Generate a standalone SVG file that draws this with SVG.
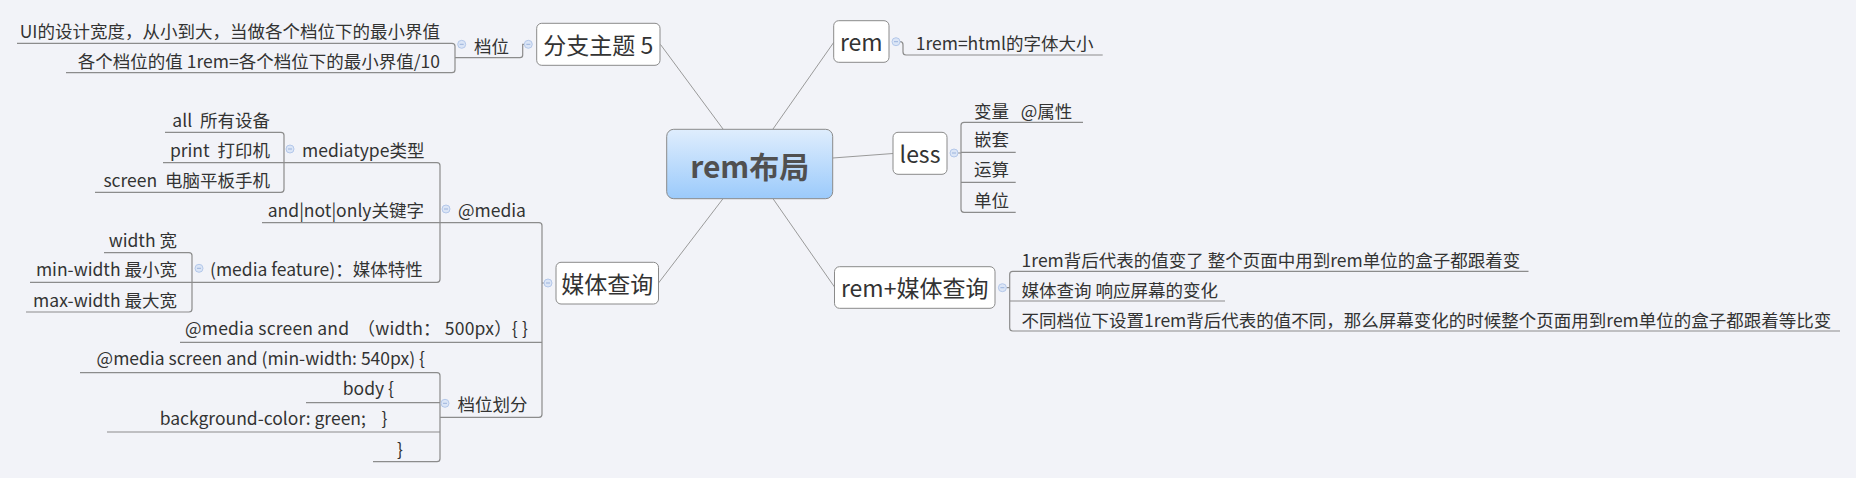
<svg xmlns="http://www.w3.org/2000/svg" width="1856" height="478" viewBox="0 0 1856 478">
<style>
text{font-family:"Noto Sans CJK SC","Liberation Sans",sans-serif;fill:#333;white-space:pre}
.c{font-size:17.5px;dominant-baseline:central}
.m{font-size:23px;text-anchor:middle;dominant-baseline:central}
.e{text-anchor:end}
.box{fill:#fff;stroke:#8a8a8a;stroke-width:1}
.ln{fill:none;stroke:#8c8c8c;stroke-width:1.2}
.cl{fill:none;stroke:#9a9a9a;stroke-width:1}
.btn{fill:#dbe5f6;stroke:#b4c8ea;stroke-width:1}
.bm{stroke:#9bb3dd;stroke-width:1}
</style>
<defs>
<linearGradient id="g" x1="0" y1="0" x2="0" y2="1">
<stop offset="0" stop-color="#dfedfd"/>
<stop offset="1" stop-color="#9bcafb"/>
</linearGradient>
<g id="b"><circle r="4" class="btn"/><line x1="-2" y1="0" x2="2" y2="0" class="bm"/></g>
</defs>
<rect width="1856" height="478" fill="#f2f3f8"/>

<g id="connectors">
<path class="cl" d="M723,129 L660.5,44.5 M773,129 L834,42 M832.7,158 L893,153.5 M723,198.7 L658.5,283 M773,198.7 L834.5,287"/>
<path class="ln" d="M524.3,44.3 H522.7 V55 Q522.7,57.7 520,57.7 H455"/>
<path class="ln" d="M17,43.3 H452 Q455,43.3 455,46.3 V69.7 Q455,72.7 452,72.7 H66"/>
<path class="ln" d="M544,283 H542"/>
<path class="ln" d="M262,222.7 H539 Q542,222.7 542,225.7 V414.3 Q542,417.3 539,417.3 H440"/>
<path class="ln" d="M542,342.3 H180"/>
<path class="ln" d="M163,162.7 H437 Q440,162.7 440,165.7 V279.3 Q440,282.3 437,282.3 H30"/>
<path class="ln" d="M165,132.3 H281 Q284,132.3 284,135.3 V189.3 Q284,192.3 281,192.3 H95"/>
<path class="ln" d="M104,252.7 H189 Q192,252.7 192,255.7 V309 Q192,312 189,312 H26"/>
<path class="ln" d="M80,372.7 H437 Q440,372.7 440,375.7 V458.7 Q440,461.7 437,461.7 H373"/>
<path class="ln" d="M306,402.7 H440 M107,432 H440"/>
<path class="ln" d="M900,41.7 Q903,41.7 903,44.7 V52 Q903,55 906,55 H1102.7"/>
<path class="ln" d="M958,153 H961 M1083,122.3 H964 Q961,122.3 961,125.3 V209.3 Q961,212.3 964,212.3 H1015.7 M961,152.3 H1015.7 M961,182.3 H1015.7"/>
<path class="ln" d="M1006.4,287.7 H1009.7 M1528.5,271.3 H1012.7 Q1009.7,271.3 1009.7,274.3 V328 Q1009.7,331 1012.7,331 H1840 M1009.7,301 H1225"/>
</g>

<g id="center">
<rect x="666.7" y="129.3" width="166" height="69.4" rx="7" fill="url(#g)" stroke="#8a8a8a"/>
<text x="749.7" y="165" text-anchor="middle" dominant-baseline="central" font-size="30" font-weight="bold" style="fill:#505050">rem布局</text>
</g>

<g id="topic5">
<rect class="box" x="536.7" y="23.3" width="123.3" height="42" rx="5"/>
<text class="m" x="598.3" y="44.3">分支主题 5</text>
<use href="#b" x="528.3" y="44.3"/>
</g>
<g id="dangwei">
<text class="c" x="474" y="45">档位</text>
<use href="#b" x="461.7" y="44.3"/>
</g>
<g id="dw1"><text class="c e" x="440" y="30.7">UI的设计宽度，从小到大，当做各个档位下的最小界值</text></g>
<g id="dw2"><text class="c e" x="440" y="60">各个档位的值 1rem=各个档位下的最小界值/10</text></g>

<g id="media-query">
<rect class="box" x="556" y="262.3" width="102.5" height="41.7" rx="5"/>
<text class="m" x="607.2" y="283.3">媒体查询</text>
<use href="#b" x="548" y="283"/>
</g>
<g id="atmedia">
<text class="c" x="458" y="209">@media</text>
<use href="#b" x="446" y="209"/>
</g>
<g id="mediatype">
<text class="c" x="302" y="149">mediatype类型</text>
<use href="#b" x="290" y="149"/>
</g>
<g id="mt1"><text class="c e" x="270" y="119">all  所有设备</text></g>
<g id="mt2"><text class="c e" x="270" y="149">print  打印机</text></g>
<g id="mt3"><text class="c e" x="270" y="179">screen  电脑平板手机</text></g>
<g id="keyword"><text class="c e" x="424" y="209">and|not|only关键字</text></g>
<g id="feature">
<text class="c" x="210" y="268.3">(media feature)：媒体特性</text>
<use href="#b" x="199" y="268.3"/>
</g>
<g id="f1"><text class="c e" x="177" y="239.3">width 宽</text></g>
<g id="f2"><text class="c e" x="177" y="268.3">min-width 最小宽</text></g>
<g id="f3"><text class="c e" x="177" y="299">max-width 最大宽</text></g>
<g id="example"><text class="c" x="185" y="327.7" textLength="343" lengthAdjust="spacing">@media screen and  （width： 500px）{ }</text></g>
<g id="dwhf">
<text class="c" x="457.6" y="403.3">档位划分</text>
<use href="#b" x="445" y="403.3"/>
</g>
<g id="h1"><text class="c e" x="425" y="357.7">@media screen and (min-width: 540px) {</text></g>
<g id="h2"><text class="c e" x="394" y="387.3">body {</text></g>
<g id="h3"><text class="c e" x="387.5" y="417.3">background-color: green;    }</text></g>
<g id="h4"><text class="c e" x="403" y="448.3">}</text></g>

<g id="rem">
<rect class="box" x="833.7" y="20.7" width="55.3" height="41.6" rx="5"/>
<text class="m" x="861.3" y="40.5">rem</text>
<use href="#b" x="896" y="41.7"/>
</g>
<g id="rem1"><text class="c" x="915.7" y="42.5">1rem=html的字体大小</text></g>

<g id="less">
<rect class="box" x="893" y="132.3" width="54" height="42" rx="5"/>
<text class="m" x="920" y="152.5">less</text>
<use href="#b" x="954" y="153"/>
</g>
<g id="l1"><text class="c" x="974" y="110">变量   @属性</text></g>
<g id="l2"><text class="c" x="974" y="138.3">嵌套</text></g>
<g id="l3"><text class="c" x="974" y="168.3">运算</text></g>
<g id="l4"><text class="c" x="974" y="199">单位</text></g>

<g id="rem-mq">
<rect class="box" x="834.5" y="266.7" width="160.5" height="41.6" rx="5"/>
<text class="m" x="914.7" y="287">rem+媒体查询</text>
<use href="#b" x="1002.4" y="287.7"/>
</g>
<g id="r1"><text class="c" x="1021.6" y="259">1rem背后代表的值变了 整个页面中用到rem单位的盒子都跟着变</text></g>
<g id="r2"><text class="c" x="1021.6" y="289.3">媒体查询 响应屏幕的变化</text></g>
<g id="r3"><text class="c" x="1021.6" y="319.3">不同档位下设置1rem背后代表的值不同，那么屏幕变化的时候整个页面用到rem单位的盒子都跟着等比变</text></g>
</svg>
